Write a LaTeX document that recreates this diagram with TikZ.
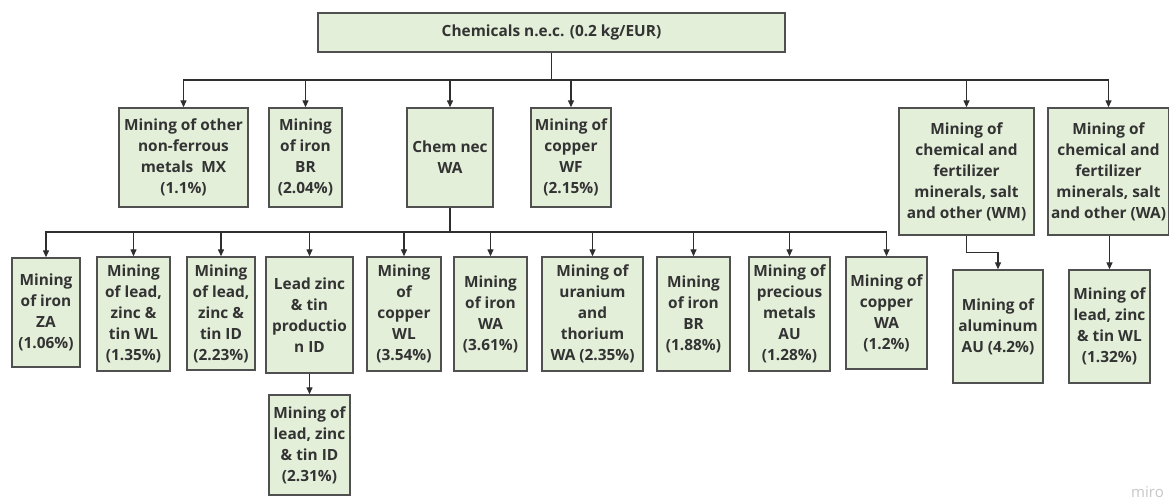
\documentclass[tikz,border=0pt]{standalone}
\usepackage{fontspec}
\setmainfont{Open Sans}
\usetikzlibrary{arrows.meta}
\definecolor{boxfill}{HTML}{E3EFD9}
\definecolor{boxline}{HTML}{505050}
\definecolor{ink}{HTML}{333333}
\definecolor{wire}{HTML}{2E2E2E}
\tikzset{
  box/.style={draw=boxline, line width=1.4pt, fill=boxfill, inner sep=0pt,
    align=center, text=ink, font=\fontsize{15.4}{21}\selectfont\bfseries},
  wirearrow/.style={draw=wire, line width=1.3pt,
    -{Triangle[length=7pt,width=6pt]}},
  wireline/.style={draw=wire, line width=1.3pt}
}
\newcommand{\bx}[6]{% name, cx, cy, w, h, text
  \node[box, minimum width=#4pt, minimum height=#5pt] (#1) at (#2,#3) {#6};}
\begin{document}
\begin{tikzpicture}[x=1pt,y=-1pt]
\useasboundingbox (0,0) rectangle (1169,499);

% root
\bx{top}{551.5}{32.5}{467}{39}{Chemicals n.e.c. (0.2 kg/EUR)}

% first level
\bx{mx}{183.5}{157.5}{129}{99}{Mining of other\\non-ferrous\\metals\ \ MX\\(1.1\%)}
\bx{br}{305.5}{157.5}{73}{99}{Mining\\of iron\\BR\\(2.04\%)}
\bx{chem}{450}{157.5}{86}{99}{Chem nec\\WA}
\bx{wf}{571}{157.5}{80}{99}{Mining of\\copper\\WF\\(2.15\%)}
\bx{wm}{966.5}{171.5}{135}{127}{Mining of\\chemical and\\fertilizer\\minerals, salt\\and other (WM)}
\bx{wa}{1108.5}{171.5}{121}{127}{Mining of\\chemical and\\fertilizer\\minerals, salt\\and other (WA)}

% second level under Chem nec WA
\bx{za}{46}{312.5}{68}{109}{Mining\\of iron\\ZA\\(1.06\%)}
\bx{wla}{133.5}{314}{73}{114}{Mining\\of lead,\\zinc \&\\tin WL\\(1.35\%)}
\bx{ida}{221}{313.5}{68}{113}{Mining\\of lead,\\zinc \&\\tin ID\\(2.23\%)}
\bx{prod}{309.5}{315}{87}{116}{Lead zinc\\\& tin\\productio\\n ID}
\bx{cwl}{404}{314}{74}{114}{Mining\\of\\copper\\WL\\(3.54\%)}
\bx{iwa}{490.5}{314}{73}{114}{Mining\\of iron\\WA\\(3.61\%)}
\bx{ura}{592.5}{314}{101}{114}{Mining of\\uranium\\and\\thorium\\WA (2.35\%)}
\bx{ibr}{693.5}{314}{73}{114}{Mining\\of iron\\BR\\(1.88\%)}
\bx{prec}{789.5}{314}{81}{114}{Mining of\\precious\\metals\\AU\\(1.28\%)}
\bx{cwa}{886.5}{313}{81}{112}{Mining of\\copper\\WA\\(1.2\%)}

% third level
\bx{idb}{309.5}{445}{81}{100}{Mining of\\lead, zinc\\\& tin ID\\(2.31\%)}
\bx{alu}{998}{326.5}{90}{113}{Mining of\\aluminum\\AU (4.2\%)}
\bx{wlb}{1109.5}{326.5}{81}{113}{Mining of\\lead, zinc\\\& tin WL\\(1.32\%)}

% junctions on the two distribution rails
\coordinate (j1) at (551.5,80);
\coordinate (j2) at (450,232);

% root to first level
\draw[wireline] (top.south) -- (j1);
\foreach \n in {mx,br,chem,wf,wm,wa}
  \draw[wirearrow] (j1) -| (\n.north);

% Chem nec WA to second level
\draw[wireline] (chem.south) -- (j2);
\foreach \n in {za,wla,ida,prod,cwl,iwa,ura,ibr,prec,cwa}
  \draw[wirearrow] (j2) -| (\n.north);

% remaining links
\draw[wirearrow] (prod.south) -- (idb.north);
\draw[wirearrow] (wm.south) -- ++(0,17) -| (alu.north);
\draw[wirearrow] (wlb.north |- wa.south) -- (wlb.north);

% watermark
\node[anchor=base west, inner sep=0pt, text=black!22,
  font=\fontsize{15}{15}\selectfont] (miro) at (1131,497) {miro};
\end{tikzpicture}
\end{document}
